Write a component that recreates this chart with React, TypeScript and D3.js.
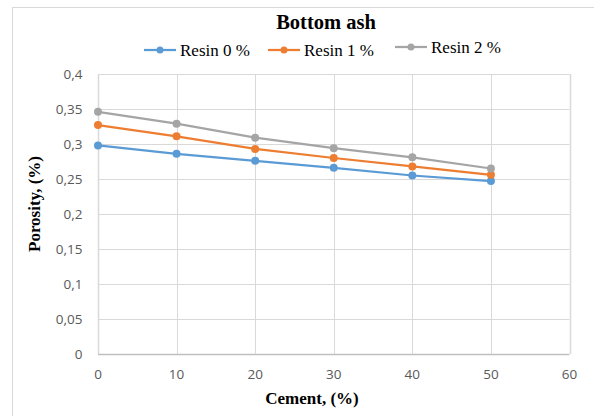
import React from "react";
import * as d3 from "d3";

const cement = [0, 10, 20, 30, 40, 50];
const resin0 = [0.298, 0.286, 0.276, 0.266, 0.255, 0.247];
const resin1 = [0.327, 0.311, 0.293, 0.28, 0.268, 0.256];
const resin2 = [0.346, 0.329, 0.309, 0.294, 0.281, 0.265];
const seriesNames = ["Resin 0 %", "Resin 1 %", "Resin 2 %"];
const xTicks = [0, 10, 20, 30, 40, 50, 60];
const yTicks = [0, 0.05, 0.1, 0.15, 0.2, 0.25, 0.3, 0.35, 0.4];
const colors = ["#5B9BD5", "#ED7D31", "#A5A5A5"];

export default function App() {
  const W = 594, H = 416;
  const x = d3.scaleLinear().domain([0, 60]).range([98, 569.5]);
  const y = d3.scaleLinear().domain([0, 0.4]).range([354, 74]);
  const fmt = (v: number) => String(+v.toFixed(2)).replace(".", ",");
  const series = [resin0, resin1, resin2];
  const line = d3
    .line<[number, number]>()
    .x((d) => x(d[0]))
    .y((d) => y(d[1]));
  const legendX = [144, 268, 395];
  const legendY = [50, 50, 47];
  const tickFont = "'Open Sans', Lato, sans-serif";
  const serif = "'Liberation Serif', 'DejaVu Serif', serif";
  return (
    <svg
      width={W}
      height={H}
      style={{ position: "absolute", left: 0, top: 0, background: "#fff" }}
    >
      <rect x={0} y={0} width={W} height={H} fill="#fff" />
      <rect x={12.5} y={7.5} width={620} height={440} fill="#fff" stroke="#D9D9D9" />
      <text x={326} y={29} textAnchor="middle" fontFamily={serif} fontWeight="bold" fontSize={20.5} fill="#000">
        Bottom ash
      </text>
      {seriesNames.map((n, i) => (
        <g key={n}>
          <line x1={legendX[i]} x2={legendX[i] + 32} y1={legendY[i]} y2={legendY[i]} stroke={colors[i]} strokeWidth={2.25} />
          <circle cx={legendX[i] + 16} cy={legendY[i]} r={3.5} fill={colors[i]} />
          <text x={legendX[i] + 36} y={legendY[i] + 5.5} fontFamily={serif} fontSize={17} fill="#000">
            {n}
          </text>
        </g>
      ))}
      {yTicks.map((t) => (
        <g key={"y" + t}>
          <line x1={x(0)} x2={x(60)} y1={Math.round(y(t)) + 0.5} y2={Math.round(y(t)) + 0.5} stroke={t === 0 ? "#BFBFBF" : "#D9D9D9"} strokeWidth={t === 0 ? 1.5 : 1} />
          <text x={82.5} y={y(t) + 5} textAnchor="end" fontFamily={tickFont} fontSize={13.5} fill="#595959">
            {fmt(t)}
          </text>
        </g>
      ))}
      {xTicks.map((t) => (
        <g key={"x" + t}>
          <line x1={Math.round(x(t)) + 0.5} x2={Math.round(x(t)) + 0.5} y1={y(0.4)} y2={y(0)} stroke="#D9D9D9" strokeWidth={t === 0 || t === 60 ? 1.5 : 1} />
          <text x={x(t)} y={379} textAnchor="middle" fontFamily={tickFont} fontSize={13.5} fill="#595959">
            {t}
          </text>
        </g>
      ))}
      {series.map((s, i) => {
        const pts = cement.map((c, j) => [c, s[j]] as [number, number]);
        return (
          <g key={"s" + i}>
            <path d={line(pts) || ""} fill="none" stroke={colors[i]} strokeWidth={2.25} />
            {pts.map((p, j) => (
              <circle key={j} cx={x(p[0])} cy={y(p[1])} r={4} fill={colors[i]} />
            ))}
          </g>
        );
      })}
      <text x={312} y={404} textAnchor="middle" fontFamily={serif} fontWeight="bold" fontSize={17} fill="#000">
        Cement, (%)
      </text>
      <text transform={`translate(40, 204) rotate(-90)`} textAnchor="middle" fontFamily={serif} fontWeight="bold" fontSize={17} fill="#000">
        Porosity, (%)
      </text>
    </svg>
  );
}
